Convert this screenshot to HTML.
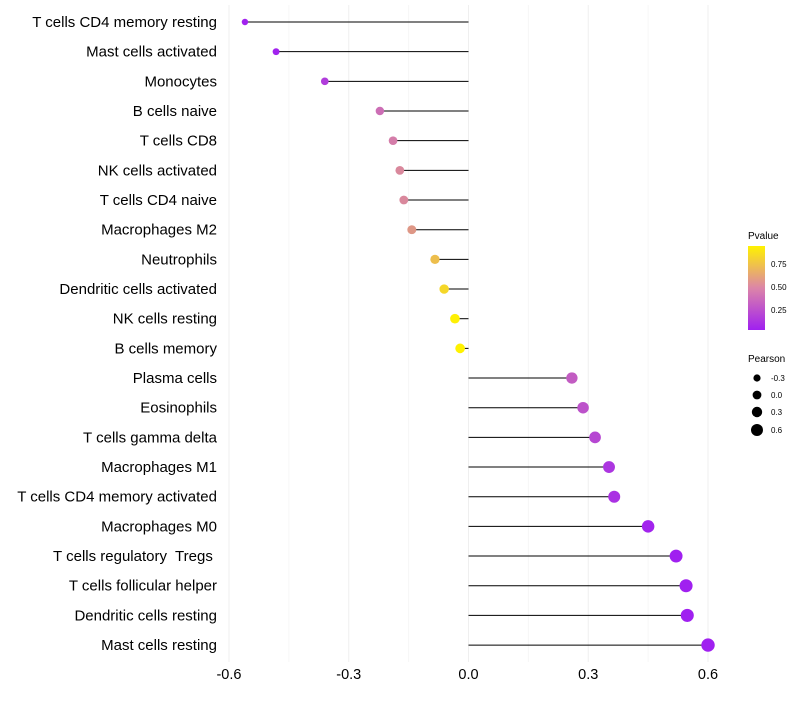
<!DOCTYPE html>
<html><head><meta charset="utf-8"><style>
body{margin:0;background:#fff;font-family:"Liberation Sans",sans-serif}
text{white-space:pre}
</style></head><body>
<svg id="chart" width="800" height="700" xmlns="http://www.w3.org/2000/svg">
<defs><linearGradient id="pg" x1="0" y1="1" x2="0" y2="0">
<stop offset="0" stop-color="#A020F0"/><stop offset="0.5" stop-color="#DC85A8"/><stop offset="1" stop-color="#FFF200"/></linearGradient></defs>
<g id="grid"></g><g id="marks"></g><g id="labels"></g>
<g>
<text x="748" y="239" font-size="10">Pvalue</text>
<rect x="748" y="246" width="17" height="84" fill="url(#pg)"/>
<text x="771" y="267" font-size="8">0.75</text>
<text x="771" y="290" font-size="8">0.50</text>
<text x="771" y="313" font-size="8">0.25</text>
</g>
<g>
<text x="748" y="362" font-size="10">Pearson</text>
<circle cx="757" cy="378" r="3.6"/><text x="771" y="381" font-size="8">-0.3</text>
<circle cx="757" cy="395" r="4.4"/><text x="771" y="398" font-size="8">0.0</text>
<circle cx="757" cy="412" r="5.2"/><text x="771" y="415" font-size="8">0.3</text>
<circle cx="757" cy="430" r="6"/><text x="771" y="433" font-size="8">0.6</text>
</g>
</svg>
<script>
const cells=["T cells CD4 memory resting","Mast cells activated","Monocytes","B cells naive","T cells CD8","NK cells activated","T cells CD4 naive","Macrophages M2","Neutrophils","Dendritic cells activated","NK cells resting","B cells memory","Plasma cells","Eosinophils","T cells gamma delta","Macrophages M1","T cells CD4 memory activated","Macrophages M0","T cells regulatory  Tregs ","T cells follicular helper","Dendritic cells resting","Mast cells resting"];
const pearson=[-0.56,-0.482,-0.36,-0.222,-0.189,-0.172,-0.162,-0.142,-0.084,-0.061,-0.034,-0.021,0.259,0.287,0.317,0.352,0.365,0.45,0.52,0.545,0.548,0.6];
const pvalue=[0.03,0.03,0.15,0.38,0.45,0.5,0.5,0.56,0.72,0.82,0.92,0.95,0.3,0.25,0.2,0.12,0.1,0.04,0.02,0.02,0.02,0.02];
const ticks=[-0.6,-0.3,0.0,0.3,0.6];
const minor=[-0.45,-0.15,0.15,0.45];
const NS="http://www.w3.org/2000/svg";
const x=v=>468.5+v*399.2;
const y=i=>22+i*29.67;
const rad=v=>Math.max(1.8,4.9+3*v);
function mix(a,b,t){return a.map((c,i)=>Math.round(c+(b[i]-c)*t));}
function col(p){const lo=[160,32,240],mid=[215,130,165],hi=[255,242,0];const t=Math.min(1,Math.max(0,(p-0.02)/0.91));const c=t<0.5?mix(lo,mid,t*2):mix(mid,hi,(t-0.5)*2);return `rgb(${c.join(',')})`;}
function mk(tag,a,parent){const e=document.createElementNS(NS,tag);for(const k in a)e.setAttribute(k,a[k]);parent.appendChild(e);return e;}
const grid=document.getElementById('grid'),marks=document.getElementById('marks'),labels=document.getElementById('labels');
minor.forEach(t=>{const l=mk('line',{x1:x(t),x2:x(t),y1:5,y2:662,stroke:'#f6f6f6','stroke-width':1},grid);

});
ticks.forEach(t=>{const l=mk('line',{x1:x(t),x2:x(t),y1:5,y2:662,stroke:'#efefef','stroke-width':1},grid);


const tx=mk('text',{x:x(t),y:679,'font-size':14.5,'text-anchor':'middle',fill:'#000'},labels);tx.textContent=t.toFixed(1);

});
cells.forEach((c,i)=>{
const l=mk('line',{x1:x(0),x2:x(pearson[i]),y1:y(i),y2:y(i),stroke:'#000','stroke-width':1},marks);


const d=mk('circle',{cx:x(pearson[i]),cy:y(i),r:rad(pearson[i]),fill:col(pvalue[i])},marks);


const t=mk('text',{x:217,y:y(i)+5,'font-size':15,'text-anchor':'end',fill:'#000'},labels);t.textContent=c;


});
</script>
</body></html>
